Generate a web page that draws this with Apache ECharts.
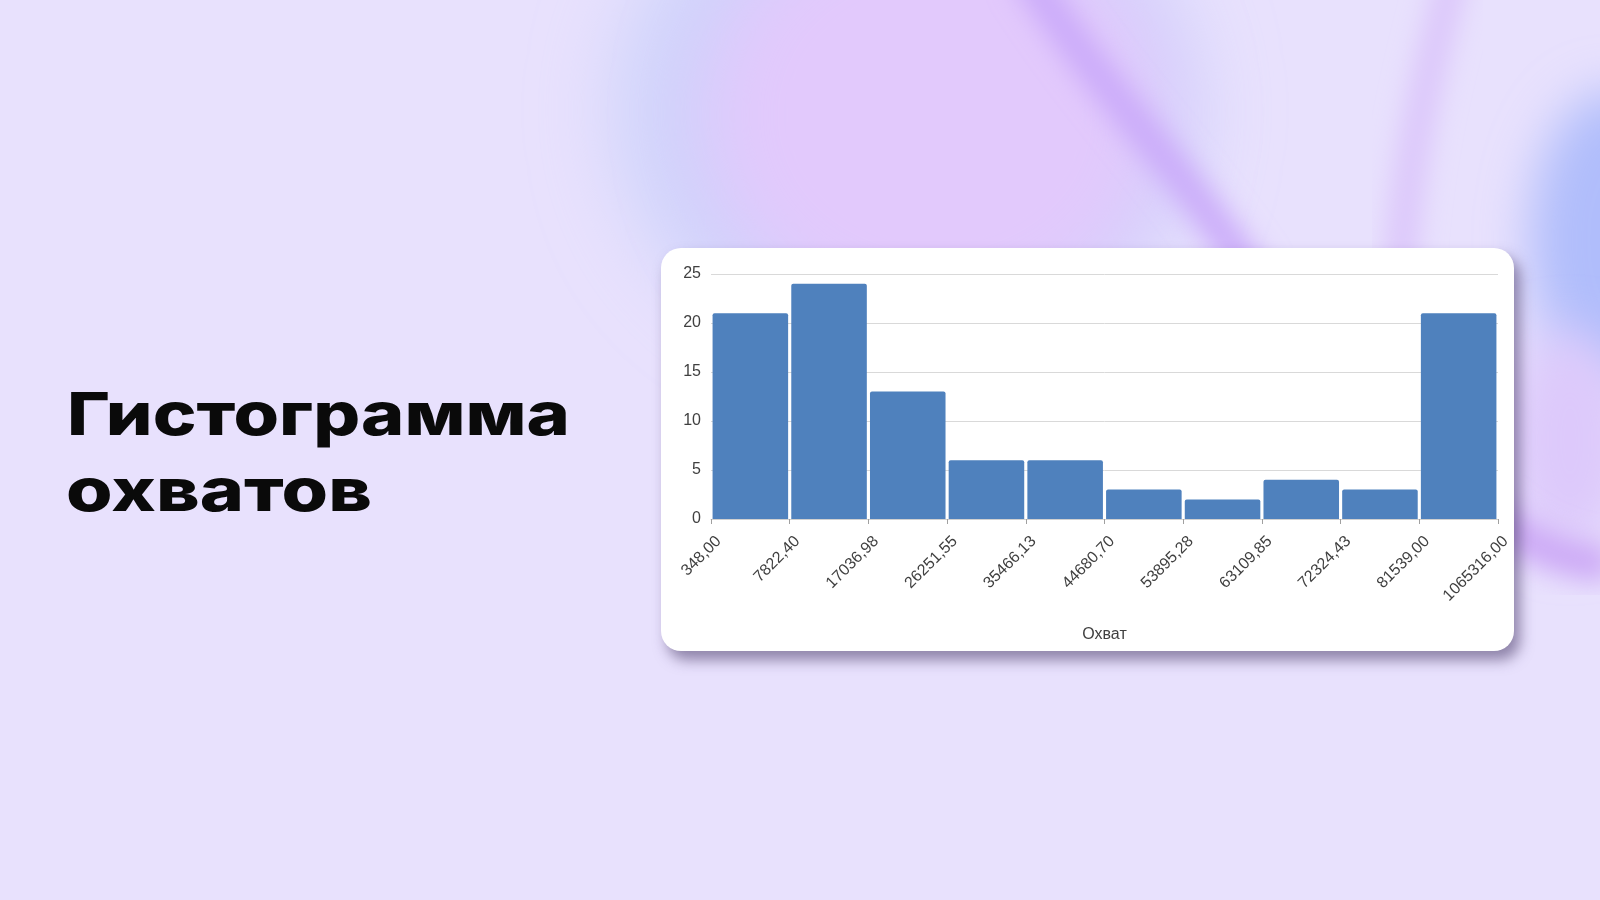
<!DOCTYPE html>
<html>
<head>
<meta charset="utf-8">
<script src="https://cdn.jsdelivr.net/npm/echarts@6/dist/echarts.min.js"></script>
<style>
  html, body { margin: 0; padding: 0; width: 1600px; height: 900px; overflow: hidden; background: #e8e1fd; }
  #bg { position: absolute; left: 0; top: 0; width: 1600px; height: 900px; }
  #card { position: absolute; left: 661px; top: 248px; width: 853px; height: 403px; background: #fff;
          border-radius: 20px; box-shadow: 6px 9px 14px rgba(70, 55, 100, 0.55); }
  #chart { position: absolute; left: 0; top: 0; width: 1600px; height: 900px; }
  .ttl { position: absolute; font-family: Inter, "Noto Sans", sans-serif; font-weight: 800; font-size: 59px;
         line-height: 59px; color: #0a0a0a; white-space: nowrap; transform-origin: 0 0; display: inline-block; }
</style>
</head>
<body>
<svg id="bg" viewBox="0 0 1600 900" xmlns="http://www.w3.org/2000/svg">
  <defs>
    <filter id="b40" x="-50%" y="-50%" width="200%" height="200%"><feGaussianBlur stdDeviation="40"/></filter>
    <filter id="b25" x="-50%" y="-50%" width="200%" height="200%"><feGaussianBlur stdDeviation="25"/></filter>
    <filter id="b14" x="-50%" y="-50%" width="200%" height="200%"><feGaussianBlur stdDeviation="14"/></filter>
  </defs>
  <rect x="0" y="0" width="1600" height="900" fill="#e8e1fd"/>
  <ellipse cx="905" cy="110" rx="290" ry="255" fill="#cdd3fb" filter="url(#b40)"/>
  <ellipse cx="935" cy="115" rx="235" ry="215" fill="#e2c9fc" filter="url(#b40)"/>
  <path d="M1025,-30 C1100,90 1175,160 1255,280" stroke="#c9a8f9" stroke-width="32" fill="none" filter="url(#b14)"/>
  <path d="M1455,-30 C1425,80 1405,170 1400,280" stroke="#dac3fa" stroke-width="28" fill="none" filter="url(#b14)"/>
  <ellipse cx="1615" cy="240" rx="85" ry="150" fill="#b0bdfb" filter="url(#b25)"/>
  <ellipse cx="1570" cy="440" rx="60" ry="110" fill="#ddc9fb" filter="url(#b25)"/>
  <path d="M1480,505 C1525,545 1560,560 1610,565" stroke="#cba6f5" stroke-width="34" fill="none" filter="url(#b14)"/>
</svg>
<div id="card"></div>
<div id="chart"></div>
<div class="ttl" id="t1" style="left:67px; top:384px;">Гистограмма</div>
<div class="ttl" id="t2" style="left:66px; top:460px;">охватов</div>
<script>
// ---- data ----
var binEdges = ['348,00', '7822,40', '17036,98', '26251,55', '35466,13', '44680,70',
                '53895,28', '63109,85', '72324,43', '81539,00', '1065316,00'];
var counts = [21, 24, 13, 6, 6, 3, 2, 4, 3, 21];
var yTicks = [0, 5, 10, 15, 20, 25];
var axisTitle = 'Охват';

var bins = [];
for (var i = 0; i < counts.length; i++) bins.push(binEdges[i] + ' – ' + binEdges[i + 1]);

var chart = echarts.init(document.getElementById('chart'), null, { renderer: 'canvas' });
var labelFont = '"Liberation Sans", Arial, sans-serif';
chart.setOption({
  backgroundColor: 'transparent',
  animation: false,
  grid: { left: 711, top: 274, width: 787, height: 245, containLabel: false },
  xAxis: [
    {
      type: 'category', data: bins, position: 'bottom',
      axisLine: { show: true, lineStyle: { color: '#d0d0d0', width: 1 } },
      axisTick: { show: false }, axisLabel: { show: false }, splitLine: { show: false }
    },
    {
      type: 'category', data: binEdges, boundaryGap: false, position: 'bottom',
      axisLine: { show: false },
      axisTick: { show: true, length: 5, lineStyle: { color: '#a0a0a0' } },
      axisLabel: { show: true, interval: 0, rotate: 45, margin: 12, color: '#404040',
                   fontSize: 16, fontFamily: labelFont, verticalAlign: 'top', lineHeight: 22 },
      name: axisTitle, nameLocation: 'middle', nameGap: 108,
      nameTextStyle: { color: '#404040', fontSize: 16, fontFamily: labelFont }
    }
  ],
  yAxis: {
    type: 'value', min: yTicks[0], max: yTicks[yTicks.length - 1], interval: 5,
    axisLine: { show: false }, axisTick: { show: false },
    axisLabel: { color: '#404040', fontSize: 16, fontFamily: labelFont, margin: 10 },
    splitLine: { lineStyle: { color: '#d9d9d9', width: 1 } }
  },
  series: [{
    type: 'bar', xAxisIndex: 0, data: counts,
    barCategoryGap: '4%',
    itemStyle: { color: '#4f81bd', borderRadius: [2, 2, 0, 0] }
  }]
});

function fitTitles() {
  var targets = { t1: 503, t2: 306 };
  Object.keys(targets).forEach(function (id) {
    var el = document.getElementById(id);
    el.style.transform = 'none';
    var w = el.getBoundingClientRect().width;
    el.style.transform = 'scaleX(' + (targets[id] / w) + ')';
  });
}
fitTitles();
if (document.fonts && document.fonts.ready) document.fonts.ready.then(fitTitles);
</script>
</body>
</html>
